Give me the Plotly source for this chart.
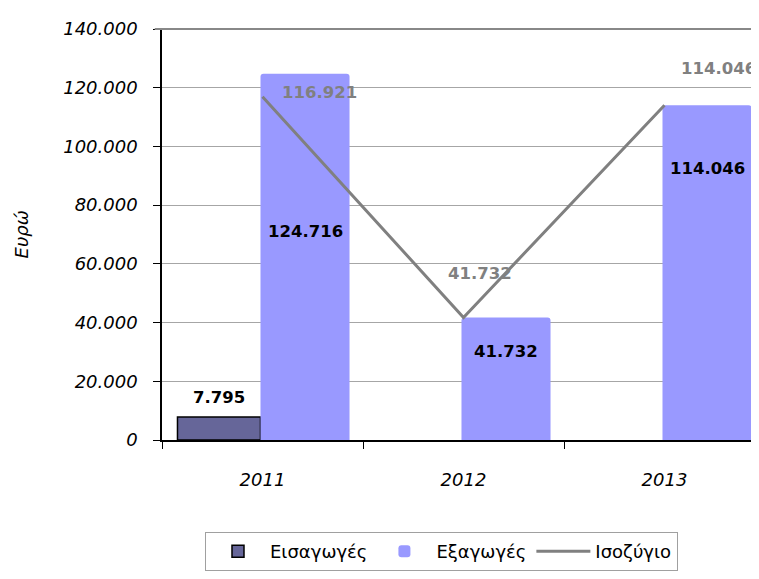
import plotly.graph_objects as go

years = ["2011", "2012", "2013"]
imports = [7795, None, None]
exports = [124716, 41732, 114046]
balance = [116921, 41732, 114046]
import_labels = ["7.795", "", ""]
export_labels = ["124.716", "41.732", "114.046"]
balance_labels = ["116.921", "41.732", "114.046"]
y_ticks = [0, 20000, 40000, 60000, 80000, 100000, 120000, 140000]

FONT = "DejaVu Sans"

fig = go.Figure()
fig.add_trace(go.Bar(
    x=years, y=imports, name="Εισαγωγές",
    marker=dict(color="#666699", line=dict(color="black", width=1.5)),
    width=0.413, offset=-0.423,
))
fig.add_trace(go.Bar(
    x=years, y=exports, name="Εξαγωγές",
    marker=dict(color="#9999FF", line=dict(width=0), cornerradius=3),
    width=0.443, offset=-0.01,
))
fig.add_trace(go.Scatter(
    x=years, y=balance, name="Ισοζύγιο", mode="lines",
    line=dict(color="#808080", width=3),
))

annotations = []
for i, (v, t) in enumerate(zip(imports, import_labels)):
    if v is None or not t:
        continue
    annotations.append(dict(x=i - 0.2165, y=v, xref="x", yref="y", text=t, showarrow=False,
                            yshift=20, font=dict(family=FONT, size=16.5, color="black", weight="bold")))
exp_shift = [-158, -34, -63]
for i, (v, t) in enumerate(zip(exports, export_labels)):
    annotations.append(dict(x=i + 0.2115, y=v, xref="x", yref="y", text=t, showarrow=False,
                            yshift=exp_shift[i],
                            font=dict(family=FONT, size=16.5, color="black", weight="bold")))
bal_xshift = [57, 16, 54]
bal_yshift = [4, 44, 37]
for i, (v, t) in enumerate(zip(balance, balance_labels)):
    annotations.append(dict(x=i, y=v, xref="x", yref="y", text=t, showarrow=False,
                            xshift=bal_xshift[i], yshift=bal_yshift[i],
                            font=dict(family=FONT, size=16.5, color="#808080", weight="bold")))
annotations.append(dict(x=-0.2322, y=0.5, xref="paper", yref="paper", text="Ευρώ",
                        textangle=-90, showarrow=False, xanchor="center", yanchor="middle",
                        font=dict(family=FONT, size=18, color="black", style="italic")))

fig.update_layout(
    width=759, height=579,
    margin=dict(l=154, r=2, t=21, b=147, autoexpand=False),
    paper_bgcolor="white", plot_bgcolor="white",
    separators=",.",
    barmode="group",
    font=dict(family=FONT, size=18, color="black"),
    showlegend=True,
    legend=dict(orientation="h", x=0.0713, y=-0.2238, xanchor="left", yanchor="top",
                bordercolor="#A0A0A0", borderwidth=1,
                font=dict(family=FONT, size=18, color="black"),
                itemwidth=54, traceorder="normal"),
    annotations=annotations,
    shapes=[dict(type="line", xref="paper", yref="paper", x0=-0.012, x1=1, y0=1, y1=1,
                 line=dict(color="#888888", width=2))],
    yaxis2=dict(overlaying="y", anchor="x", side="left", range=[0, 140000],
                tickvals=y_ticks, ticks="inside", ticklen=8, tickcolor="black",
                showticklabels=False, showgrid=False, showline=False, zeroline=False,
                automargin=False),
)
fig.update_xaxes(
    type="category", range=[-0.5, 2.5], automargin=False,
    showline=True, linecolor="black", linewidth=1.5,
    ticks="outside", tickson="boundaries", ticklen=7, tickcolor="black",
    tickfont=dict(family=FONT, size=18, style="italic"),
    ticklabelstandoff=23,
    showgrid=False,
)
fig.update_yaxes(
    selector=dict(overlaying=None),
    range=[0, 140000], tickvals=y_ticks, tickformat=",d", automargin=False,
    showline=True, linecolor="black", linewidth=1.5,
    ticks="outside", ticklen=7, tickcolor="black",
    tickfont=dict(family=FONT, size=18, style="italic"),
    ticklabelstandoff=12,
    showgrid=True, gridcolor="#A6A6A6", gridwidth=1,
    zeroline=False,
)

fig.write_html("out.html")
